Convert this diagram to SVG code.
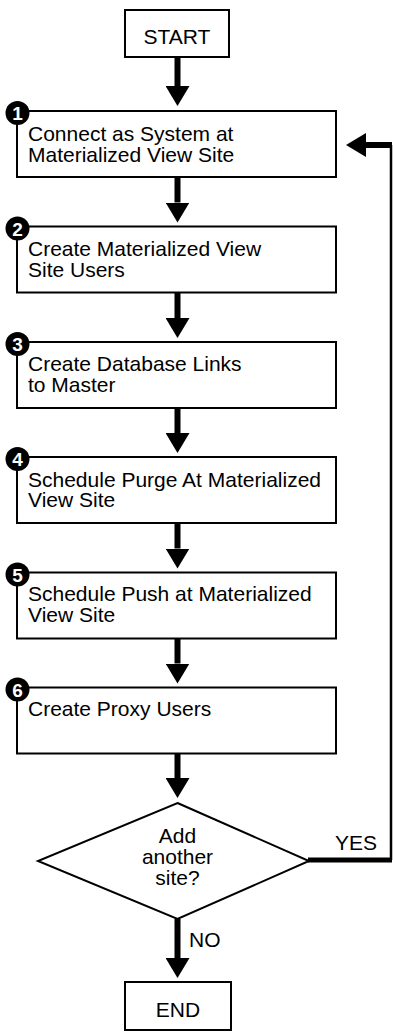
<svg xmlns="http://www.w3.org/2000/svg" width="393" height="1032" viewBox="0 0 393 1032">
<style>
.box{fill:#fff;stroke:#000;stroke-width:2}
.t{font-family:"Liberation Sans",Arial,Helvetica,sans-serif;font-size:21px;fill:#000}
.c{text-anchor:middle}
.badge{fill:#000}
.num{font-family:"Liberation Sans",Arial,Helvetica,sans-serif;font-size:19px;font-weight:bold;fill:#fff;text-anchor:middle}
.conn{stroke:#000;stroke-width:6;fill:none}
.thin{stroke:#000;stroke-width:2.5;fill:none}
</style>
<defs>
<marker id="ah" viewBox="0 0 20 24" refX="0" refY="12" markerWidth="20" markerHeight="24" markerUnits="userSpaceOnUse" orient="auto">
<path d="M0,0 L20,12 L0,24 z" fill="#000"/>
</marker>
</defs>
<g id="connectors">
<path class="conn" d="M177.5,57 V86" marker-end="url(#ah)"/>
<path class="conn" d="M177.5,177 V202.5" marker-end="url(#ah)"/>
<path class="conn" d="M177.5,292.5 V318" marker-end="url(#ah)"/>
<path class="conn" d="M177.5,408 V433" marker-end="url(#ah)"/>
<path class="conn" d="M177.5,523 V548.5" marker-end="url(#ah)"/>
<path class="conn" d="M177.5,638.5 V663.5" marker-end="url(#ah)"/>
<path class="conn" d="M177.5,753.5 V778" marker-end="url(#ah)"/>
<path class="conn" d="M177.5,919 V958" marker-end="url(#ah)"/>
<path class="conn" style="stroke-width:5" d="M308,860 H392"/>
<path class="thin" d="M391,860 V145"/>
<path class="conn" d="M392,145 H366" marker-end="url(#ah)"/>
<text class="t" x="335" y="850">YES</text>
<text class="t" x="189" y="947">NO</text>
</g>
<g id="start">
<rect class="box" x="125" y="10" width="104" height="47"/>
<text class="t c" x="177" y="44">START</text>
</g>
<g id="step1">
<rect class="box" x="17" y="111" width="319" height="66"/>
<circle class="badge" cx="17.5" cy="113" r="12"/>
<text class="num" x="17.5" y="120">1</text>
<text class="t" x="28" y="141">Connect as System at</text>
<text class="t" x="28" y="161.5">Materialized View Site</text>
</g>
<g id="step2">
<rect class="box" x="17" y="226.5" width="319" height="66"/>
<circle class="badge" cx="17.5" cy="228.5" r="12"/>
<text class="num" x="17.5" y="235.5">2</text>
<text class="t" x="28" y="256">Create Materialized View</text>
<text class="t" x="28" y="276.5">Site Users</text>
</g>
<g id="step3">
<rect class="box" x="17" y="342" width="319" height="66"/>
<circle class="badge" cx="17.5" cy="344" r="12"/>
<text class="num" x="17.5" y="351">3</text>
<text class="t" x="28" y="371">Create Database Links</text>
<text class="t" x="28" y="391.5">to Master</text>
</g>
<g id="step4">
<rect class="box" x="17" y="457" width="319" height="66"/>
<circle class="badge" cx="17.5" cy="459" r="12"/>
<text class="num" x="17.5" y="466">4</text>
<text class="t" x="28" y="486.5">Schedule Purge At Materialized</text>
<text class="t" x="28" y="507">View Site</text>
</g>
<g id="step5">
<rect class="box" x="17" y="572.5" width="319" height="66"/>
<circle class="badge" cx="17.5" cy="574.5" r="12"/>
<text class="num" x="17.5" y="581.5">5</text>
<text class="t" x="28" y="601">Schedule Push at Materialized</text>
<text class="t" x="28" y="621.5">View Site</text>
</g>
<g id="step6">
<rect class="box" x="17" y="687.5" width="319" height="66"/>
<circle class="badge" cx="17.5" cy="689.5" r="12"/>
<text class="num" x="17.5" y="696.5">6</text>
<text class="t" x="28" y="716">Create Proxy Users</text>
</g>
<g id="decision">
<polygon class="box" points="177.5,803 309,861 177.5,919 38,861"/>
<text class="t c" x="177.5" y="843">Add</text>
<text class="t c" x="177.5" y="864">another</text>
<text class="t c" x="177.5" y="885">site?</text>
</g>
<g id="end">
<rect class="box" x="125" y="982" width="106" height="48"/>
<text class="t c" x="178" y="1017">END</text>
</g>
</svg>
